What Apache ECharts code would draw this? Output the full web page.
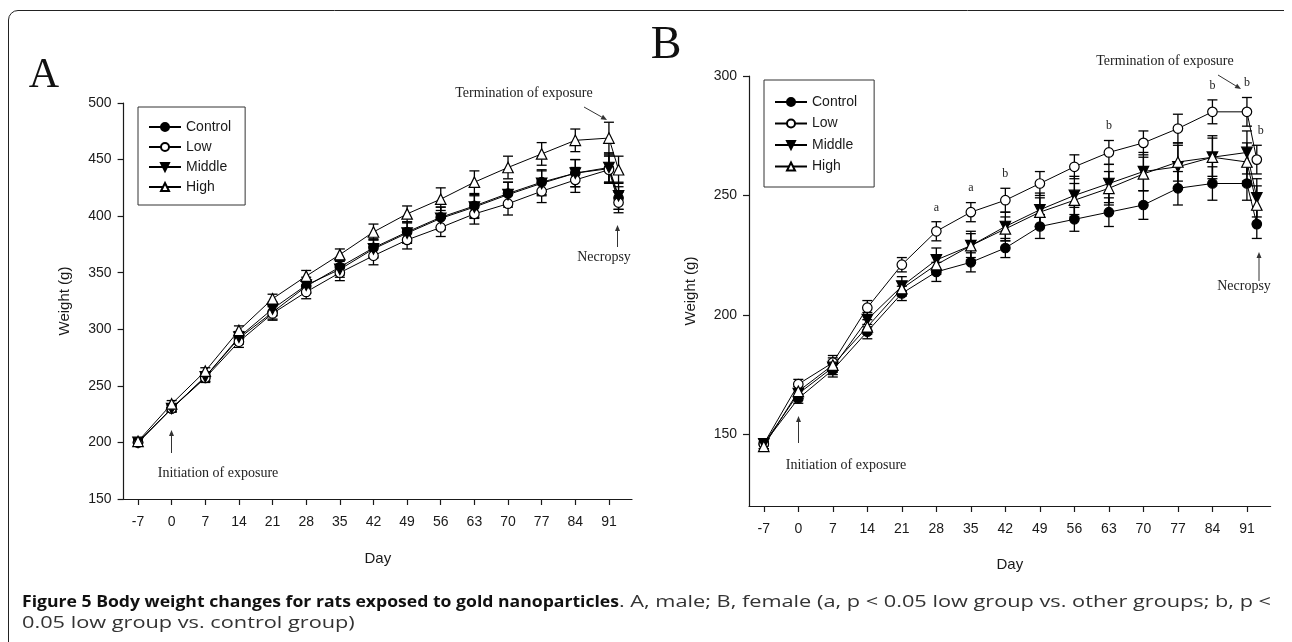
<!DOCTYPE html>
<html><head><meta charset="utf-8">
<script src="https://cdn.jsdelivr.net/npm/echarts@6/dist/echarts.min.js"></script>
<style>html,body{margin:0;padding:0;background:#fff}#c{width:1292px;height:642px}</style>
</head><body><div id="c"></div>
<script>
// ---------- data ----------
const days = [-7, 0, 7, 14, 21, 28, 35, 42, 49, 56, 63, 70, 77, 84, 91, 93];
const dayTicks = [-7, 0, 7, 14, 21, 28, 35, 42, 49, 56, 63, 70, 77, 84, 91];
const groups = ['Control', 'Low', 'Middle', 'High'];
const maleYTicks = [150, 200, 250, 300, 350, 400, 450, 500];
const femaleYTicks = [150, 200, 250, 300];

// Panel A (male)
const maleControl = [200, 230, 258, 292, 315, 338, 355, 372, 386, 399, 409, 420, 430, 438, 442, 416];
const maleLow     = [200, 230, 257, 289, 314, 333, 350, 365, 379, 390, 402, 411, 422, 432, 441, 412];
const maleMiddle  = [200, 230, 258, 293, 318, 339, 353, 371, 385, 398, 408, 419, 429, 438, 443, 418];
const maleHigh    = [201, 234, 263, 299, 327, 347, 366, 386, 402, 415, 430, 443, 455, 467, 469, 441];
const maleControlErr = [2, 3, 4, 5, 6, 6, 7, 8, 9, 9, 10, 10, 11, 12, 12, 10];
const maleLowErr     = [2, 3, 4, 5, 6, 6, 7, 8, 8, 8, 9, 10, 10, 11, 12, 9];
const maleMiddleErr  = [2, 3, 4, 5, 6, 7, 7, 8, 9, 10, 10, 11, 11, 12, 13, 12];
const maleHighErr    = [2, 3, 3, 4, 4, 5, 5, 7, 7, 10, 10, 10, 10, 10, 14, 12];

// Panel B (female)
const femaleControl = [146, 165, 177, 193, 209, 218, 222, 228, 237, 240, 243, 246, 253, 255, 255, 238];
const femaleLow     = [146, 171, 180, 203, 221, 235, 243, 248, 255, 262, 268, 272, 278, 285, 285, 265];
const femaleMiddle  = [146, 167, 178, 198, 212, 223, 229, 237, 244, 250, 255, 260, 262, 266, 268, 249];
const femaleHigh    = [145, 168, 179, 195, 211, 221, 229, 236, 243, 248, 253, 259, 264, 266, 264, 246];
const femaleControlErr = [2, 2, 3, 3, 3, 4, 4, 4, 5, 5, 6, 6, 7, 7, 7, 6];
const femaleLowErr     = [2, 2, 3, 3, 3, 4, 4, 5, 5, 5, 5, 5, 6, 5, 6, 6];
const femaleMiddleErr  = [2, 2, 3, 3, 4, 5, 6, 6, 7, 8, 8, 8, 9, 9, 9, 8];
const femaleHighErr    = [2, 2, 3, 3, 3, 4, 5, 5, 6, 7, 7, 7, 8, 8, 8, 8];

// significance letters (female, above Low group)
const sigDays = [28, 35, 42, 63, 84, 91, 93];
const sigLetters = ['a', 'a', 'b', 'b', 'b', 'b', 'b'];

// caption
const captionBold = 'Figure 5 Body weight changes for rats exposed to gold nanoparticles';
const captionRest1 = '. A, male; B, female (a, p < 0.05 low group vs. other groups; b, p <';
const captionRest2 = '0.05 low group vs. control group)';

// ---------- styles ----------
const INK = '#1a1a1a';
const SANS = 'Liberation Sans, Arial, sans-serif';
const SERIF = 'Liberation Serif, Times New Roman, serif';
const CAP = 'Open Sans';
const invTri = 'path://M0,0L20,0L10,17.3Z';
const symbolStyle = {
  Control: {symbol: 'circle', size: 9.5, fill: '#000'},
  Low: {symbol: 'circle', size: 9.5, fill: '#fff'},
  Middle: {symbol: invTri, size: 10.5, fill: '#000'},
  High: {symbol: 'triangle', size: 10.5, fill: '#fff'}
};

function lineSeries(name, idx, vals) {
  const s = symbolStyle[name];
  return {
    type: 'line', name, xAxisIndex: idx, yAxisIndex: idx, z: 3,
    data: days.map((d, i) => [d, vals[i]]),
    symbol: s.symbol, symbolSize: s.size, showAllSymbol: true,
    lineStyle: {color: '#000', width: 1},
    itemStyle: {color: s.fill, borderColor: '#000', borderWidth: 1.2},
    emphasis: {disabled: true}, animation: false
  };
}
function errSeries(name, idx, vals, errs) {
  return {
    type: 'custom', name: name + ' SE', xAxisIndex: idx, yAxisIndex: idx, z: 2, silent: true,
    encode: {x: 0, y: 1},
    data: days.map((d, i) => [d, vals[i], errs[i]]),
    renderItem(params, api) {
      const x = api.value(0), y = api.value(1), e = api.value(2);
      const hi = api.coord([x, y + e]), lo = api.coord([x, y - e]);
      const w = 5, st = {stroke: '#000', lineWidth: 1.3};
      return {type: 'group', children: [
        {type: 'line', shape: {x1: hi[0], y1: hi[1], x2: lo[0], y2: lo[1]}, style: st},
        {type: 'line', shape: {x1: hi[0] - w, y1: hi[1], x2: hi[0] + w, y2: hi[1]}, style: st},
        {type: 'line', shape: {x1: lo[0] - w, y1: lo[1], x2: lo[0] + w, y2: lo[1]}, style: st}
      ]};
    },
    animation: false
  };
}

function xAxis(idx) {
  return {
    gridIndex: idx, type: 'value', min: -10, max: 95.8,
    name: 'Day', nameLocation: 'middle', nameGap: idx === 0 ? 52 : 51,
    nameTextStyle: {fontFamily: SANS, fontSize: 15, color: INK},
    axisLine: {onZero: false, lineStyle: {color: INK, width: 1.2}},
    axisTick: {show: true, inside: false, length: 6, customValues: dayTicks, lineStyle: {color: INK, width: 1.2}},
    axisLabel: {customValues: dayTicks, fontFamily: SANS, fontSize: 14, color: INK, margin: 16},
    splitLine: {show: false}
  };
}
function yAxis(idx, min, max, ticks) {
  return {
    gridIndex: idx, type: 'value', min, max,
    name: 'Weight (g)', nameLocation: 'middle', nameGap: 51, nameRotate: 90,
    nameTextStyle: {fontFamily: SANS, fontSize: 15, color: INK},
    axisLine: {onZero: false, lineStyle: {color: INK, width: 1.2}},
    axisTick: {show: true, inside: false, length: 6, customValues: ticks, lineStyle: {color: INK, width: 1.2}},
    axisLabel: {customValues: ticks, fontFamily: SANS, fontSize: 14, color: INK, margin: 12},
    splitLine: {show: false}
  };
}

function arrow(x1, y1, x2, y2) {
  const ang = Math.atan2(y2 - y1, x2 - x1), L = 6, W = 2.5;
  const bx = x2 - L * Math.cos(ang), by = y2 - L * Math.sin(ang);
  const px = -Math.sin(ang) * W, py = Math.cos(ang) * W;
  return [
    {type: 'line', shape: {x1, y1, x2: bx, y2: by}, style: {stroke: '#333', lineWidth: 1}, silent: true},
    {type: 'polygon', shape: {points: [[x2, y2], [bx + px, by + py], [bx - px, by - py]]}, style: {fill: '#333'}, silent: true}
  ];
}
function note(text, x, y, size) {
  return {type: 'text', x, y, silent: true,
    style: {text, fontFamily: SERIF, fontSize: size || 14, fill: '#222', align: 'center', verticalAlign: 'middle'}};
}

const series = [
  errSeries('Control', 0, maleControl, maleControlErr),
  errSeries('Low', 0, maleLow, maleLowErr),
  errSeries('Middle', 0, maleMiddle, maleMiddleErr),
  errSeries('High', 0, maleHigh, maleHighErr),
  lineSeries('Control', 0, maleControl),
  lineSeries('Low', 0, maleLow),
  lineSeries('Middle', 0, maleMiddle),
  lineSeries('High', 0, maleHigh),
  errSeries('Control', 1, femaleControl, femaleControlErr),
  errSeries('Low', 1, femaleLow, femaleLowErr),
  errSeries('Middle', 1, femaleMiddle, femaleMiddleErr),
  errSeries('High', 1, femaleHigh, femaleHighErr),
  lineSeries('Control', 1, femaleControl),
  lineSeries('Low', 1, femaleLow),
  lineSeries('Middle', 1, femaleMiddle),
  lineSeries('High', 1, femaleHigh),
  {
    type: 'custom', name: 'sig', xAxisIndex: 1, yAxisIndex: 1, z: 4, silent: true,
    encode: {x: 0, y: 1},
    data: sigDays.map((d, k) => {
      const i = days.indexOf(d);
      return [d, femaleLow[i] + femaleLowErr[i] + 6, k];
    }),
    renderItem(params, api) {
      const p = api.coord([api.value(0), api.value(1)]);
      const t = sigLetters[params.dataIndex];
      return {type: 'text', x: p[0] + (api.value(0) > 92 ? 4 : 0), y: p[1],
        style: {text: t, fontFamily: SERIF, fontSize: 12, fill: '#222', align: 'center', verticalAlign: 'middle'}};
    },
    animation: false
  }
];

const legendBase = {
  orient: 'vertical', data: groups, itemWidth: 32, itemHeight: 10,
  backgroundColor: '#fff', borderColor: '#333', borderWidth: 1,
  textStyle: {fontFamily: SANS, fontSize: 14, color: INK}, selectedMode: false
};

// caption layout: bold run, then regular run stretched to the right margin
const mctx = document.createElement('canvas').getContext('2d');
mctx.font = 'bold 16px "Open Sans"';
const wBold = mctx.measureText(captionBold).width;
mctx.font = '16px "Open Sans"';
const wRest = mctx.measureText(captionRest1).width;
const capLeft = 22, capRight = 1271, sBold = 1.1;
const boldEnd = capLeft + wBold * sBold;
const sRest = (capRight - boldEnd) / wRest;

const graphic = [
  {type: 'line', silent: true, shape: {x1: 8.5, y1: 20, x2: 8.5, y2: 642}, style: {stroke: '#222', lineWidth: 1}},
  {type: 'line', silent: true, shape: {x1: 18, y1: 10.5, x2: 1284, y2: 10.5}, style: {stroke: '#222', lineWidth: 1}},
  {type: 'arc', silent: true, shape: {cx: 18, cy: 20, r: 9.5, startAngle: Math.PI, endAngle: Math.PI * 1.5}, style: {stroke: '#222', fill: 'none', lineWidth: 1}},
  {type: 'text', x: 44, y: 76, silent: true, style: {text: 'A', fontFamily: SERIF, fontSize: 42, fill: '#111', align: 'center', verticalAlign: 'middle'}},
  {type: 'text', x: 666, y: 46, silent: true, style: {text: 'B', fontFamily: SERIF, fontSize: 46, fill: '#111', align: 'center', verticalAlign: 'middle'}},
  note('Initiation of exposure', 218, 473),
  ...arrow(171.5, 453, 171.5, 430),
  note('Termination of exposure', 524, 93),
  ...arrow(584, 107, 607, 120),
  note('Necropsy', 604, 257),
  ...arrow(617.5, 247, 617.5, 225),
  note('Initiation of exposure', 846, 465),
  ...arrow(798.5, 443, 798.5, 416),
  note('Termination of exposure', 1165, 61),
  ...arrow(1218, 75, 1241, 89),
  note('Necropsy', 1244, 286),
  ...arrow(1259, 281, 1259, 252),
  {type: 'text', x: capLeft, y: 602, scaleX: sBold, silent: true, style: {
    text: captionBold, verticalAlign: 'middle', align: 'left',
    fontFamily: CAP, fontWeight: 'bold', fontSize: 16, fill: '#111'}},
  {type: 'text', x: boldEnd, y: 602, scaleX: sRest, silent: true, style: {
    text: captionRest1, verticalAlign: 'middle', align: 'left',
    fontFamily: CAP, fontSize: 16, fill: '#333'}},
  {type: 'text', x: capLeft, y: 623, scaleX: sRest, silent: true, style: {
    text: captionRest2, verticalAlign: 'middle', align: 'left',
    fontFamily: CAP, fontSize: 16, fill: '#333'}}
];

const chart = echarts.init(document.getElementById('c'), null, {renderer: 'canvas'});
chart.setOption({
  animation: false,
  backgroundColor: '#fff',
  grid: [
    {left: 123.6, top: 103, width: 508.4, height: 396},
    {left: 749, top: 76, width: 521.6, height: 430}
  ],
  xAxis: [xAxis(0), xAxis(1)],
  yAxis: [yAxis(0, 150, 500, maleYTicks), yAxis(1, 120, 300, femaleYTicks)],
  legend: [
    Object.assign({}, legendBase, {left: 138, top: 107, itemGap: 6, padding: [13, 14, 11, 10]}),
    Object.assign({}, legendBase, {left: 764, top: 80, itemGap: 7.5, padding: [15, 17, 13.5, 10]})
  ],
  tooltip: {show: false},
  series,
  graphic
});
</script></body></html>
